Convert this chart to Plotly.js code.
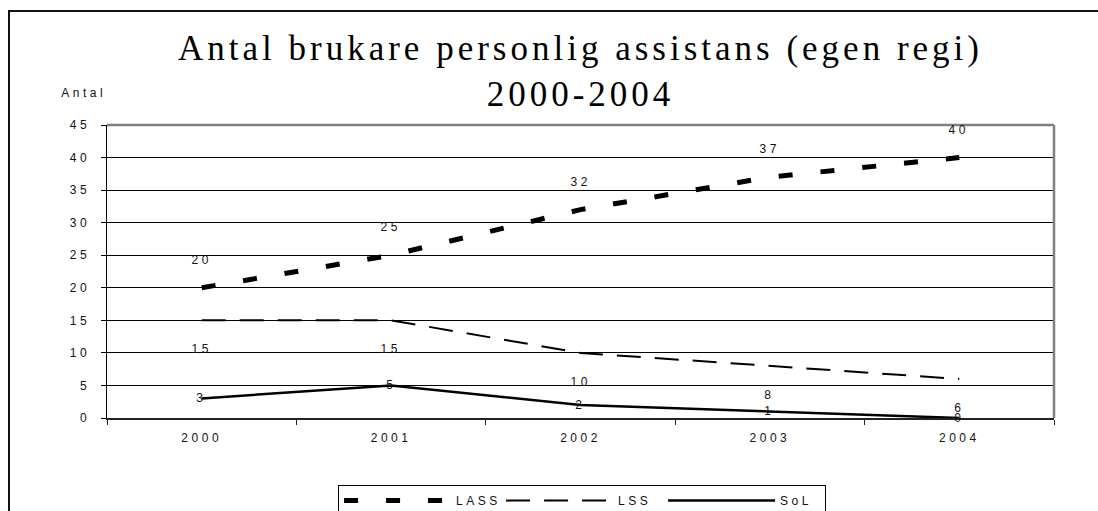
<!DOCTYPE html>
<html>
<head>
<meta charset="utf-8">
<script src="https://cdn.plot.ly/plotly-3.0.1.min.js"></script>
<style>
  html, body { margin: 0; padding: 0; background: #fff; overflow: hidden; }
  #frame { position: absolute; left: 8px; top: 10px; width: 2000px; height: 2000px;
           border-left: 2px solid #111; border-top: 2px solid #111; }
  #chart { position: absolute; left: 0; top: 0; width: 1098px; height: 511px; }
  #chart .gtitle { letter-spacing: 4px; }
  #chart .xtick text, #chart .ytick text { letter-spacing: 3.5px; }
  #chart .annotation-text { letter-spacing: 3.5px; }
  #chart .legendtext { letter-spacing: 3.5px; }
</style>
</head>
<body>
<div id="frame"></div>
<div id="chart"></div>
<script>
const years = ['2000', '2001', '2002', '2003', '2004'];
const seriesNames = ['LASS', 'LSS', 'SoL'];
const lassValues = [20, 25, 32, 37, 40];
const lssValues = [15, 15, 10, 8, 6];
const solValues = [3, 5, 2, 1, 0];
const yTickValues = [0, 5, 10, 15, 20, 25, 30, 35, 40, 45];
const titleLines = ['Antal brukare personlig assistans (egen regi)', '2000-2004'];
const yLabel = 'Antal';

const sans = 'Liberation Sans, Arial, sans-serif';
const serif = 'Liberation Serif, Times New Roman, serif';

const traces = [
  { x: years, y: lassValues, name: seriesNames[0], type: 'scatter', mode: 'lines',
    line: { color: '#000', width: 5, dash: '14px,28px' } },
  { x: years, y: lssValues, name: seriesNames[1], type: 'scatter', mode: 'lines',
    line: { color: '#000', width: 2, dash: '24px,14px' } },
  { x: years, y: solValues, name: seriesNames[2], type: 'scatter', mode: 'lines',
    line: { color: '#000', width: 2.5 } }
];

// On a category axis, annotations are placed by category index.
function labels(values, shift) {
  return values.map((v, i) => ({
    x: i, y: v, xref: 'x', yref: 'y', text: String(v), showarrow: false,
    yshift: shift, font: { family: sans, size: 12, color: '#111' }
  }));
}

const annotations = [
  ...labels(lassValues, 28),
  ...labels(lssValues, -29),
  ...labels(solValues, 0),
  { x: -0.041, y: 1.140, xref: 'paper', yref: 'paper', text: yLabel, showarrow: false,
    font: { family: sans, size: 12, color: '#111' } }
];

const layout = {
  width: 1098, height: 511,
  paper_bgcolor: 'rgba(0,0,0,0)', plot_bgcolor: '#fff',
  margin: { l: 107, r: 44, t: 125, b: 93, autoexpand: false },
  title: { text: titleLines.join('<br>'), x: 0.5, xref: 'paper', xanchor: 'center',
           y: 1 - 60 / 511, yref: 'container', yanchor: 'top',
           font: { family: serif, size: 35, color: '#000' } },
  xaxis: { type: 'category', categoryorder: 'array', categoryarray: years,
           range: [-0.5, years.length - 0.5], automargin: false,
           showline: true, linecolor: '#222', linewidth: 1.5,
           ticks: 'outside', tickson: 'boundaries', ticklen: 5, tickcolor: '#222',
           showgrid: false, zeroline: false, tickangle: 0,
           tickfont: { family: sans, size: 12, color: '#111' }, ticklabelstandoff: 8 },
  yaxis: { range: [0, 45], tickvals: yTickValues, automargin: false,
           showline: true, linecolor: '#000', linewidth: 1.5,
           ticks: 'outside', ticklen: 5, tickcolor: '#000',
           showgrid: true, gridcolor: '#000', gridwidth: 1, zeroline: false,
           tickfont: { family: sans, size: 12, color: '#111' }, ticklabelstandoff: 8 },
  shapes: [
    { type: 'line', xref: 'paper', yref: 'paper', x0: 0, x1: 1, y0: 1, y1: 1,
      line: { color: '#808080', width: 2.5 } },
    { type: 'line', xref: 'paper', yref: 'paper', x0: 1, x1: 1, y0: 0, y1: 1,
      line: { color: '#808080', width: 2.5 } }
  ],
  annotations: annotations,
  showlegend: true,
  legend: { orientation: 'h', x: 0.244, xanchor: 'left', y: -0.229, yanchor: 'top',
            bordercolor: '#000', borderwidth: 1, bgcolor: '#fff',
            font: { family: sans, size: 12, color: '#111' },
            itemwidth: 107, entrywidth: 40, entrywidthmode: 'pixels' }
};

Plotly.newPlot('chart', traces, layout, { displayModeBar: false, staticPlot: true });
</script>
</body>
</html>
